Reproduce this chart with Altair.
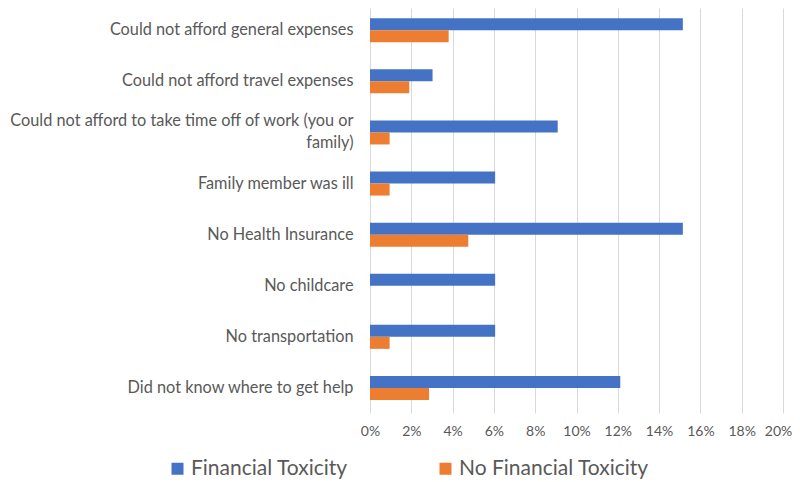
import altair as alt
import pandas as pd

categories = [
    "Could not afford general expenses",
    "Could not afford travel expenses",
    "Could not afford to take time off of work (you or family)",
    "Family member was ill",
    "No Health Insurance",
    "No childcare",
    "No transportation",
    "Did not know where to get help",
]
financial_toxicity = [0.1515, 0.0303, 0.0909, 0.0606, 0.1515, 0.0606, 0.0606, 0.1212]
no_financial_toxicity = [0.0381, 0.0190, 0.0095, 0.0095, 0.0476, 0.0, 0.0095, 0.0286]
series = ["Financial Toxicity", "No Financial Toxicity"]
colors = ["#4472C4", "#ED7D31"]
x_ticks = [0, 0.02, 0.04, 0.06, 0.08, 0.10, 0.12, 0.14, 0.16, 0.18, 0.20]

rows = []
for c, a, b in zip(categories, financial_toxicity, no_financial_toxicity):
    rows.append({"Category": c, "Series": series[0], "Value": a})
    rows.append({"Category": c, "Series": series[1], "Value": b})
df = pd.DataFrame(rows)

WRAPPED = "Could not afford to take time off of work (you or family)"
label_expr = (
    f"datum.value == '{WRAPPED}' ? "
    "['Could not afford to take time off of work (you or', 'family)'] : datum.value"
)

FONT = "Lato"
GRAY = "#595959"

chart = alt.Chart(df).mark_bar().encode(
    x=alt.X(
        "Value:Q",
        scale=alt.Scale(domain=[0, 0.2], nice=False),
        axis=alt.Axis(
            values=x_ticks,
            format=".0%",
            title=None,
            ticks=False,
            domain=False,
            grid=True,
            gridColor="#D9D9D9",
            gridWidth=1,
            labelColor=GRAY,
            labelFont=FONT,
            labelFontSize=14,
            labelPadding=11,
            labelFlush=False,
            labelOverlap=False,
            labelOffset={"condition": {"test": "datum.value >= 0.199", "value": -5}, "value": 0},
        ),
    ),
    y=alt.Y(
        "Category:N",
        sort=categories,
        scale=alt.Scale(paddingInner=0.53, paddingOuter=0.228, align=0.44),
        axis=alt.Axis(
            title=None,
            ticks=False,
            domain=False,
            labelColor=GRAY,
            labelFont=FONT,
            labelFontSize=16.3,
            labelPadding=17,
            labelLimit=400,
            labelExpr=label_expr,
            labelLineHeight=22,
            labelOffset={"condition": {"test": f"datum.value == '{WRAPPED}'", "value": -11}, "value": 0},
        ),
    ),
    yOffset=alt.YOffset("Series:N", sort=series, scale=alt.Scale(paddingInner=0, paddingOuter=0)),
    color=alt.Color(
        "Series:N",
        sort=series,
        scale=alt.Scale(domain=series, range=colors),
        legend=alt.Legend(
            title=None,
            orient="none",
            legendX=-203,
            legendY=450,
            direction="horizontal",
            columns=2,
            columnPadding=87,
            symbolType="square",
            symbolSize=144,
            symbolStrokeWidth=0,
            symbolOpacity=1,
            labelFont=FONT,
            labelFontSize=21,
            labelColor=GRAY,
            labelOffset=3,
            labelLimit=400,
        ),
    ),
).properties(
    width=413,
    height=405,
    autosize=alt.AutoSizeParams(type="none"),
    padding={"left": 362, "top": 0, "right": 9, "bottom": 69},
).configure_view(stroke=None)

chart.save("out.html", embed_options={"renderer": "svg", "actions": False})
